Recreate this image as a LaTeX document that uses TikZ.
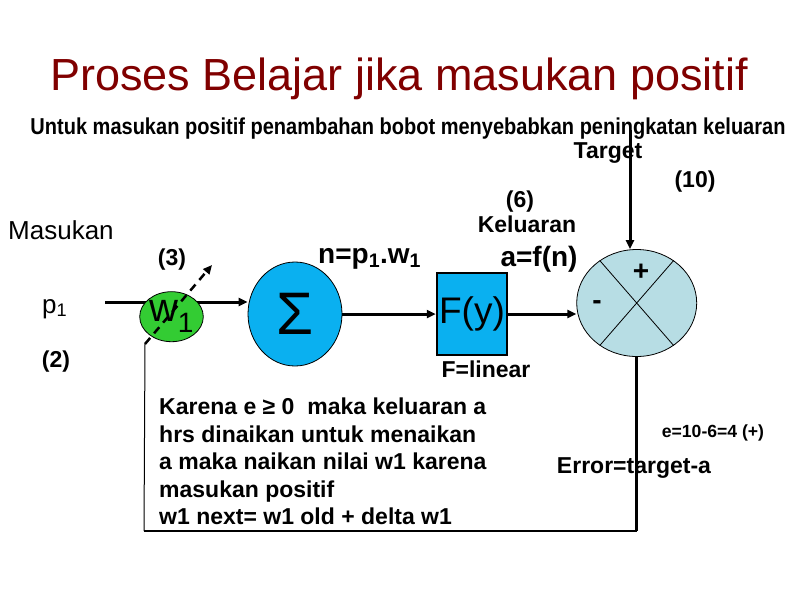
\documentclass[tikz,border=0pt]{standalone}
\usepackage{fontspec}
\setmainfont{Liberation Sans}
\usepackage{graphicx}
\usepackage{tikz}
\usetikzlibrary{positioning, arrows.meta, shapes.geometric, backgrounds}
\definecolor{maroon}{RGB}{128,0,0}
\definecolor{leaf}{RGB}{51,204,51}
\definecolor{sky}{RGB}{10,176,240}
\definecolor{pale}{RGB}{183,221,228}

\begin{document}
\begin{tikzpicture}[x=1pt, y=-1pt,
  lab/.style={font=\fontsize{23}{27.5}\selectfont\bfseries, inner sep=0pt, anchor=base},
  big/.style={font=\fontsize{28}{32}\selectfont\bfseries, inner sep=0pt, anchor=base},
  reg/.style={font=\fontsize{26}{30}\selectfont, inner sep=0pt, anchor=base west},
  blk/.style={draw, line width=0.8pt, inner sep=0pt},
  wire/.style={line width=3pt, -{Triangle[length=9pt, width=8pt]}}]
\useasboundingbox (0,0) rectangle (794,595);
\node[font=\fontsize{45}{50}\selectfont, text=maroon, inner sep=0pt, anchor=base] (ttl) at (399,90) {Proses Belajar jika masukan positif};
\node[lab] (sub) at (408,134) {\resizebox{755pt}{\height}{Untuk masukan positif penambahan bobot menyebabkan peningkatan keluaran}};
% blocks
\node[blk, ellipse, fill=leaf, minimum width=53, minimum height=50, font=\fontsize{40}{44}\selectfont] (w) at (171.5,316.7) {w\textsubscript{1}};
\node[blk, ellipse, fill=sky, minimum width=94, minimum height=104, font=\fontsize{60}{64}\selectfont] (sig) at (295,314) {\raisebox{-7.5pt}{Σ}};
\node[blk, line width=2.5pt, fill=sky, minimum width=70, minimum height=82, font=\fontsize{37}{40}\selectfont] (fy) at (472,314) {F(y)};
\node[blk, ellipse, fill=pale, minimum width=120, minimum height=107] (cmp) at (636.7,303) {};
\draw[line width=0.8pt] (cmp.131) -- (cmp.-49) (cmp.49) -- (cmp.-131);
\node[font=\fontsize{28}{30}\selectfont\bfseries, inner sep=0pt] (pls) at (641,272) {+};
\node[font=\fontsize{28}{30}\selectfont\bfseries, inner sep=0pt] (mns) at (597,305) {-};
% labels
\node[lab] (tgl) at (608,158) {Target};
\node[lab] (ten) at (695,187) {(10)};
\node[lab] (six) at (520,207) {(6)};
\node[lab] (kel) at (527,232) {Keluaran};
\node[reg] (mas) at (8,239) {Masukan};
\node[lab] (thr) at (172,265) {(3)};
\node[big, anchor=base west] (net) at (318,263) {n=p\textsubscript{1}.w\textsubscript{1}};
\node[big] (act) at (539,266) {a=f(n)};
\node[reg] (inp) at (42,313) {p\textsubscript{1}};
\node[lab] (two) at (56,367) {(2)};
\node[lab] (lin) at (486,377) {F=linear};
\node[lab, anchor=north west, align=left] (why) at (159,398) {Karena e ≥ 0\ \ maka keluaran a\\hrs dinaikan untuk menaikan\\a maka naikan nilai w1 karena\\masukan positif\\w1 next= w1 old + delta w1};
\node[lab, font=\fontsize{17.6}{20}\selectfont\bfseries] (eq) at (713,437) {e=10-6=4 (+)};
\node[lab] (err) at (634,473) {Error=target-a};
% connectors
\coordinate (pin) at (105,302);
\coordinate (tgt) at (630,130);
\coordinate (lowl) at (144,531);
\coordinate (dsh) at (145,344);
\coordinate (tip) at (212,265);
\begin{scope}[on background layer]
\draw[wire] (pin) -- (pin -| sig.west);
\end{scope}
\draw[wire] (sig) -- (fy);
\draw[wire] (fy.east) -- (fy.east -| cmp.west);
\draw[wire] (tgt) -- (tgt |- cmp.north);
\draw[line width=3pt] (cmp.south) -- (cmp.south |- lowl);
\draw[line width=1.5pt] (cmp.south |- lowl) -- (lowl);
\draw[line width=1pt] (lowl) -- (dsh);
\draw[line width=2.5pt, dash pattern=on 8pt off 6pt, -{Triangle[length=9pt, width=8pt]}] (dsh) -- (tip);
\end{tikzpicture}
\end{document}
